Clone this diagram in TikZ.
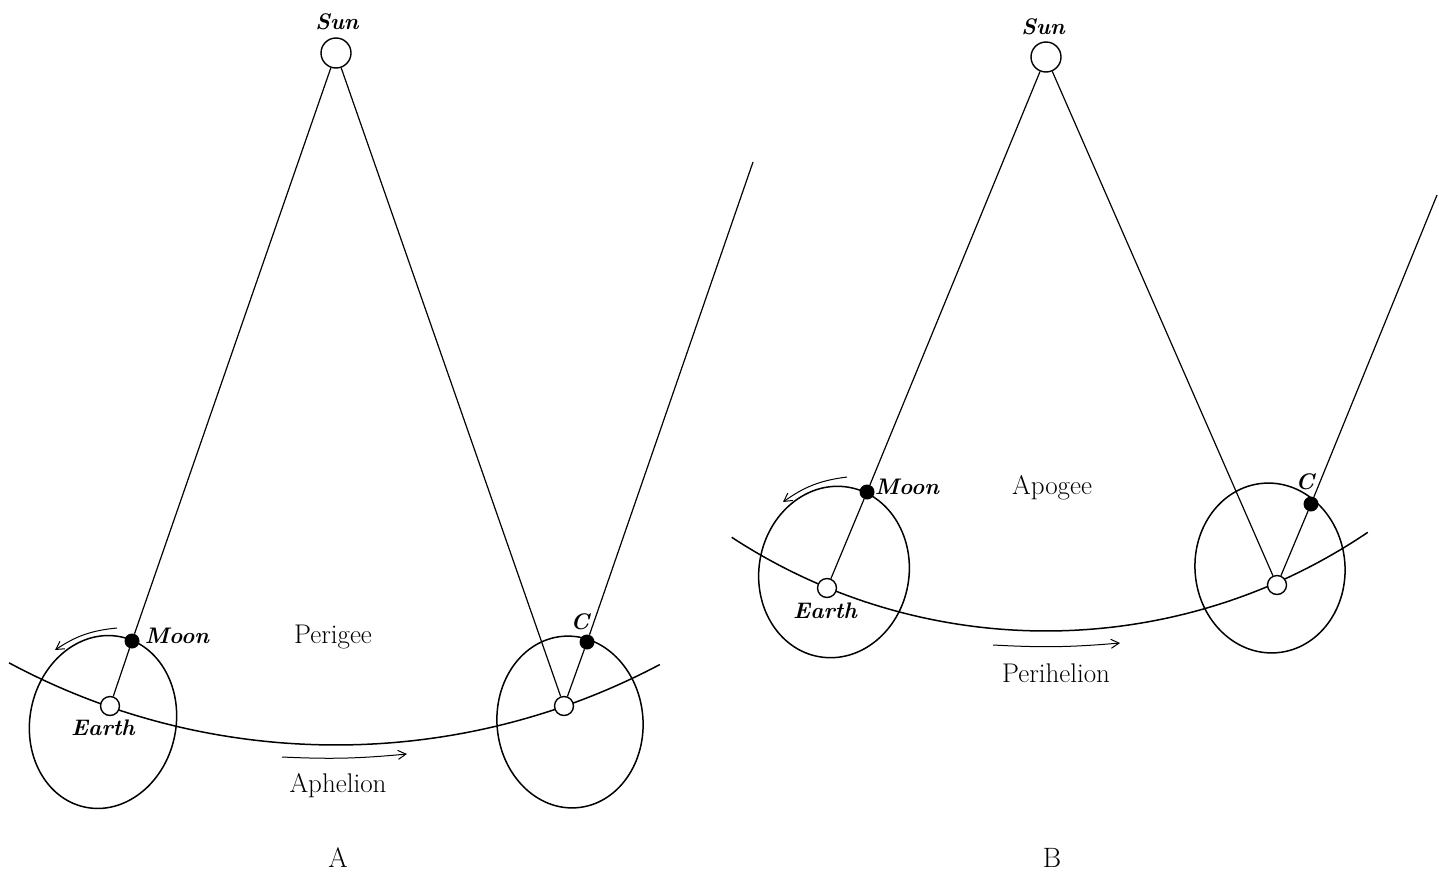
\documentclass[tikz,border=0pt]{standalone}
\usetikzlibrary{arrows.meta,positioning,backgrounds}
\tikzset{
  body/.style={circle, draw, fill=white, line width=1.4pt, inner sep=0pt, minimum size=19pt},
  sunbody/.style={body, minimum size=30pt},
  dot/.style={circle, fill=black, inner sep=0pt, minimum size=15pt},
  lbl/.style={font=\fontsize{22.5}{26}\selectfont\bfseries\itshape},
  word/.style={font=\fontsize{27}{31}\selectfont},
  panel/.style={font=\fontsize{28}{32}\selectfont},
  orbit/.style={line width=1.5pt},
  ray/.style={line width=1.2pt},
  motion/.style={line width=1pt, -{Straight Barb[length=8pt,width=9pt]}}
}
\begin{document}
\begin{tikzpicture}[x=1pt, y=-1pt]
  \useasboundingbox (0,0) rectangle (1439,875);

  % panel A: perigee at aphelion
  \node[sunbody] (sunA) at (336,53) {};
  \node[body] (earthA) at (110,706) {};
  \node[dot] (moonA) at (132,641) {};
  \node[body] (ctrA) at (564,706) {};
  \node[dot] (cA) at (587,642) {};
  \coordinate (topA) at (753,162);
  \begin{scope}[on background layer]
    \draw[orbit] (sunA.center) ++(118.2:692) arc[start angle=118.2, end angle=62.1, radius=692];
    \draw[orbit, rotate around={-12:(103,722)}] (103,722) ellipse[x radius=73, y radius=87];
    \draw[orbit, rotate around={5:(570,722)}] (570,722) ellipse[x radius=73, y radius=86];
  \end{scope}
  \draw[ray] (sunA) -- (moonA);
  \draw[ray] (moonA) -- (earthA);
  \draw[ray] (sunA) -- (ctrA);
  \draw[ray] (ctrA) -- (cA);
  \draw[ray] (cA) -- (topA);
  \coordinate (spinA0) at (117,628);
  \coordinate (spinA1) at (55,650);
  \draw[motion] (spinA0) to[bend right=14] (spinA1);
  \coordinate (runA0) at (282,757);
  \coordinate (runA1) at (407,754);
  \draw[motion] (runA0) to[bend right=4] (runA1);
  \node[lbl] (sunlblA) at (337,22) {Sun};
  \node[lbl] (moonlblA) at (177,636) {Moon};
  \node[lbl] (earthlblA) at (103,728) {Earth};
  \node[lbl] (clblA) at (580,622) {C};
  \node[word] (perigee) at (333,637) {Perigee};
  \node[word] (aphelion) at (338,786) {Aphelion};
  \node[panel] (panelA) at (338,858) {A};

  % panel B: apogee at perihelion
  \node[sunbody] (sunB) at (1046,57) {};
  \node[body] (earthB) at (827,588) {};
  \node[dot] (moonB) at (867,492) {};
  \node[body] (ctrB) at (1277,585) {};
  \node[dot] (cB) at (1311,504) {};
  \coordinate (topB) at (1437,195);
  \begin{scope}[on background layer]
    \draw[orbit] (sunB.center) ++(123.2:574) arc[start angle=123.2, end angle=55.9, radius=574];
    \draw[orbit, rotate around={-10:(834,572)}] (834,572) ellipse[x radius=75, y radius=86];
    \draw[orbit, rotate around={5:(1270,568)}] (1270,568) ellipse[x radius=75, y radius=85];
  \end{scope}
  \draw[ray] (sunB) -- (moonB);
  \draw[ray] (moonB) -- (earthB);
  \draw[ray] (sunB) -- (ctrB);
  \draw[ray] (ctrB) -- (cB);
  \draw[ray] (cB) -- (topB);
  \coordinate (spinB0) at (847,477);
  \coordinate (spinB1) at (783,502);
  \draw[motion] (spinB0) to[bend right=14] (spinB1);
  \coordinate (runB0) at (993,645);
  \coordinate (runB1) at (1120,643);
  \draw[motion] (runB0) to[bend right=4] (runB1);
  \node[lbl] (sunlblB) at (1043,27) {Sun};
  \node[lbl] (moonlblB) at (907,487) {Moon};
  \node[lbl] (earthlblB) at (825,611) {Earth};
  \node[lbl] (clblB) at (1305,482) {C};
  \node[word] (apogee) at (1052,488) {Apogee};
  \node[word] (perihelion) at (1056,673) {Perihelion};
  \node[panel] (panelB) at (1052,858) {B};
\end{tikzpicture}
\end{document}
